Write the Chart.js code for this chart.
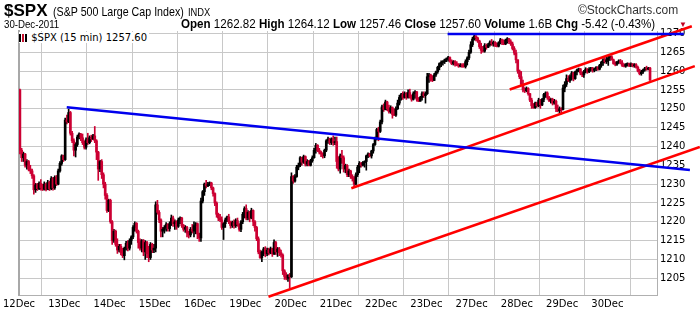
<!DOCTYPE html>
<html lang="en">
<head>
    <meta charset="UTF-8">
    <title>$SPX 15 min</title>
    <script src="https://cdn.jsdelivr.net/npm/chart.js"></script>
    <style>
        body { margin: 0; background: #fff; font-family: "Liberation Sans", Arial, sans-serif; }
        #wrap { position: relative; width: 700px; height: 312px; overflow: hidden; }
        #chart { position: absolute; left: 0; top: 0; }
        .t { position: absolute; white-space: nowrap; color: #000; transform-origin: 0 0; }
        #legend { position: absolute; left: 19px; top: 32px; font: 10px "DejaVu Sans", sans-serif; background: #fff; padding-right: 2px; }
        #legend i { display: inline-block; width: 2px; height: 8px; background: #000; margin-right: 1px; vertical-align: -1px; }
    </style>
</head>
<body>
<div id="wrap">
    <canvas id="chart" width="700" height="312"></canvas>
    <!-- header -->
    <div class="t" style="left:4px; top:1px; font-size:17px; font-weight:bold;">$SPX</div>
    <div class="t" style="left:53px; top:4px; font-size:13px; transform:scaleX(0.82);">(S&amp;P 500 Large Cap Index)</div>
    <div class="t" style="left:188px; top:6px; font-size:11px; transform:scaleX(0.85);">INDX</div>
    <div class="t" style="left:578px; top:3px; font-size:12px; color:#333;">&copy;StockCharts.com</div>
    <div class="t" style="left:4px; top:18px; font-size:11px; transform:scaleX(0.88);">30-Dec-2011</div>
    <div class="t" style="left:181px; top:17px; font-size:12px; transform:scaleX(0.965);">
        <b>Open</b> 1262.82 <b>High</b> 1264.12 <b>Low</b> 1257.46 <b>Close</b> 1257.60 <b>Volume</b> 1.6B <b>Chg</b> -5.42 (-0.43%)
    </div>
    <div class="t" style="left:679px; top:20px; font-size:8px; color:#c00020;">&#9660;</div>
    <div id="legend"><i></i><i style="background:#c8102e"></i><i></i> $SPX (15 min) 1257.60</div>
</div>
<script>
    // trading days on the x axis (26 bars of 15 min each)
    const dayLabels = ['12Dec', '13Dec', '14Dec', '15Dec', '16Dec', '19Dec', '20Dec',
                       '21Dec', '22Dec', '23Dec', '27Dec', '28Dec', '29Dec', '30Dec'];
    const barsPerDay = 26;
    const yTicks = [1205, 1210, 1215, 1220, 1225, 1230, 1235, 1240, 1245, 1250, 1255, 1260, 1265, 1270];

    // 15 min candles, one line per day
    const opens = [
        1255, 1239, 1237, 1238, 1235, 1236, 1234, 1233.5, 1232.2, 1228.5, 1229.8, 1228.8, 1230.2, 1229, 1228.6, 1230, 1228.6, 1230.5, 1228.8, 1231.5, 1229, 1231.8, 1230, 1233.5, 1235.5, 1237.5,
        1236.5, 1247, 1246.5, 1249, 1243.5, 1241.5, 1239, 1240.5, 1242.5, 1243.3, 1242.3, 1241, 1239.8, 1241.8, 1241, 1242.3, 1242, 1242.8, 1241.5, 1238.5, 1234, 1236, 1232.5, 1230, 1227, 1223,
        1225.7, 1220, 1215, 1217.5, 1214, 1212.5, 1213.5, 1211.8, 1211, 1213, 1214.3, 1213, 1215, 1216, 1218.5, 1219.6, 1217.5, 1214.5, 1213, 1215, 1212, 1214.5, 1211.5, 1210.5, 1214, 1212.5,
        1213, 1224.5, 1222.5, 1220.5, 1217.5, 1218, 1218.5, 1219.3, 1218.2, 1219.5, 1221, 1219.5, 1220, 1218.8, 1220.5, 1221, 1219, 1218, 1218.5, 1217, 1216.5, 1218, 1217.5, 1219, 1219.5, 1216.8,
        1215.7, 1225.5, 1228, 1230, 1229.5, 1230, 1230.3, 1229, 1227.5, 1225, 1222, 1221, 1220.5, 1218.5, 1219.5, 1220.5, 1221.3, 1220, 1219, 1219.8, 1219, 1220.3, 1219.3, 1218, 1220, 1222,
        1223.5, 1221, 1222.5, 1221, 1223, 1220, 1218.5, 1215.5, 1212, 1210.5, 1212, 1212.8, 1211.5, 1212.5, 1211.7, 1212.8, 1211.5, 1214.5, 1212, 1212.8, 1211.8, 1211.2, 1207, 1205.5, 1205, 1205.8,
        1205.4, 1232, 1230.8, 1232, 1234.5, 1235, 1237, 1235.8, 1237.3, 1235.3, 1236, 1235, 1236.2, 1237, 1239, 1240.3, 1239, 1238.5, 1238, 1237.5, 1239, 1241.5, 1242, 1241, 1242, 1241,
        1241.3, 1236, 1234, 1237.5, 1237, 1234, 1235, 1232.5, 1233.5, 1232, 1231.5, 1230, 1232.5, 1234.5, 1235.5, 1235, 1235.7, 1236, 1237.5, 1238, 1237.5, 1238.8, 1240.5, 1242.3, 1244.5, 1244,
        1246.5, 1250.5, 1249.8, 1251.8, 1250, 1249.2, 1250.3, 1248.5, 1248.3, 1250, 1251.5, 1253, 1253.8, 1253, 1254, 1253, 1254.3, 1253, 1252.5, 1254, 1254.5, 1252.5, 1252, 1253, 1254, 1253.5,
        1254, 1258.5, 1259, 1257.8, 1257.5, 1259, 1259.8, 1261, 1262, 1262.3, 1262.5, 1263, 1263.2, 1263.6, 1262.7, 1262, 1262.5, 1261.8, 1261.7, 1261.3, 1261.6, 1261.3, 1261.2, 1262.5, 1263.5, 1265,
        1267, 1268.5, 1269.3, 1268.8, 1268, 1266.5, 1265.5, 1265.3, 1266.8, 1266.3, 1267, 1267.7, 1267.2, 1267.6, 1266.8, 1266.6, 1267.5, 1268.3, 1267.5, 1267.2, 1268.2, 1268.6, 1267.8, 1267.2, 1266, 1264.8,
        1263, 1260, 1258.5, 1256.5, 1255, 1254.8, 1255.4, 1254, 1252.3, 1250.8, 1250.3, 1251.5, 1250.8, 1252.3, 1251, 1252.5, 1253.8, 1254.2, 1253, 1252.2, 1252.5, 1251.5, 1252, 1250, 1249.5, 1250,
        1249.8, 1255.5, 1256.5, 1258, 1257.5, 1258.5, 1259.5, 1258, 1259.8, 1260.3, 1260.6, 1259.5, 1259, 1259.8, 1260.5, 1259.8, 1260.5, 1260.8, 1260.2, 1260.6, 1261, 1260.5, 1261.5, 1262.3, 1263, 1262.5,
        1262.8, 1263.5, 1263.8, 1263, 1262, 1261.8, 1262.4, 1262.7, 1262.2, 1261.5, 1261.3, 1261.8, 1262, 1261.5, 1261.9, 1261.4, 1261.7, 1261, 1260, 1259.3, 1259.8, 1260.3, 1260.8, 1260.5, 1260.8
    ];
    const highs = [
        1255.2, 1239.5, 1238.5, 1238.2, 1236.5, 1236.3, 1235, 1234, 1232.5, 1230.2, 1230.2, 1230.6, 1231.2, 1230, 1230.6, 1230.3, 1231, 1230.8, 1232, 1231.8, 1232.2, 1232.3, 1234, 1236, 1237.8, 1237.7,
        1247.5, 1248.3, 1249.9, 1249.3, 1244, 1242, 1241, 1243, 1243.6, 1243.5, 1243.3, 1241.5, 1242.3, 1243.5, 1242.8, 1243, 1243.2, 1245.3, 1241.8, 1238.7, 1236.3, 1236.5, 1233, 1230.5, 1227.5, 1226,
        1226, 1220.3, 1218, 1217.8, 1215.5, 1214, 1214, 1213, 1213.3, 1214.8, 1215, 1215.5, 1216.3, 1219, 1220, 1219.8, 1217.8, 1215.5, 1215.3, 1215.3, 1215, 1214.8, 1213.5, 1214.5, 1214.3, 1214,
        1225.3, 1225.7, 1223, 1220.8, 1218.5, 1219, 1219.8, 1219.5, 1220, 1221.8, 1221.5, 1220.5, 1220.3, 1221, 1221.3, 1221.2, 1219.3, 1219, 1218.8, 1217.5, 1218.5, 1219.3, 1220, 1219.8, 1219.7, 1217,
        1226.3, 1228.3, 1230.3, 1231, 1230.5, 1230.6, 1230.5, 1229.2, 1227.7, 1225.3, 1222.3, 1222, 1221.3, 1219.8, 1221, 1221.5, 1222, 1220.2, 1220.2, 1220.5, 1220.8, 1221, 1219.5, 1220.3, 1222.5, 1224,
        1224.5, 1223, 1222.8, 1223.6, 1223.2, 1220.3, 1218.8, 1216, 1212.5, 1212.3, 1213.2, 1213.4, 1213, 1213, 1213.3, 1213, 1215.2, 1214.8, 1213.2, 1213.2, 1212.5, 1211.5, 1207.3, 1206.5, 1206, 1206.3,
        1233, 1232.3, 1232.5, 1235, 1235.6, 1237.3, 1237.2, 1237.7, 1237.5, 1236.5, 1236.3, 1236.6, 1237.5, 1239.5, 1240.8, 1240.5, 1239.5, 1238.8, 1238.3, 1239.3, 1241.8, 1242.5, 1242.2, 1242.3, 1242.8, 1242.5,
        1242.5, 1237.3, 1238, 1239, 1237.5, 1235.3, 1235.2, 1234, 1233.7, 1232.5, 1232, 1233, 1235, 1236, 1235.8, 1236, 1236.2, 1237.7, 1238.3, 1238.2, 1239, 1240.8, 1242.5, 1244.8, 1245.1, 1247,
        1251, 1251.3, 1252.3, 1252, 1251, 1250.8, 1250.5, 1250, 1250.5, 1252.3, 1253.6, 1254.1, 1254.5, 1254.5, 1254.3, 1255, 1255.2, 1253.7, 1254.5, 1254.8, 1254.6, 1253, 1253.3, 1254.5, 1254.5, 1254.5,
        1259.4, 1259.4, 1259.2, 1258.8, 1259.4, 1260, 1261.3, 1262.2, 1262.7, 1262.8, 1263.2, 1263.5, 1263.9, 1263.8, 1263, 1262.8, 1262.8, 1262.5, 1262, 1262, 1262, 1262, 1263, 1263.8, 1265.6, 1267.8,
        1269, 1269.6, 1269.4, 1269, 1268.2, 1267.4, 1266.6, 1267.3, 1267.2, 1267.4, 1268, 1268.4, 1268, 1267.8, 1267.5, 1267.8, 1268.7, 1268.5, 1268.3, 1268.5, 1268.9, 1268.7, 1268.3, 1267.7, 1266.5, 1265.6,
        1263, 1260.3, 1259.9, 1257.6, 1255.6, 1255.8, 1255.6, 1254.1, 1252.8, 1251.4, 1251.8, 1251.8, 1252.8, 1252.5, 1252.8, 1254.1, 1254.5, 1254.5, 1253.3, 1252.8, 1252.8, 1252.5, 1252.3, 1251, 1250.5, 1250.3,
        1256.3, 1257.2, 1259, 1258.8, 1259, 1259.9, 1259.7, 1260, 1260.5, 1260.8, 1260.7, 1259.8, 1260.2, 1260.9, 1260.7, 1260.9, 1261, 1261, 1260.8, 1261.2, 1261.2, 1261.8, 1262.6, 1263.3, 1263.5, 1263.8,
        1264.1, 1264, 1264.1, 1263.2, 1262.5, 1262.6, 1263, 1263.1, 1262.8, 1262, 1262, 1262.2, 1262.1, 1262.2, 1262, 1262, 1262, 1261.3, 1260.5, 1260.2, 1260.5, 1261, 1261.3, 1261, 1261
    ];
    const lows = [
        1238, 1236, 1236, 1234.5, 1234, 1233.5, 1232.8, 1231.5, 1227.3, 1227.8, 1228.3, 1228.5, 1228.4, 1228.3, 1228.4, 1228.2, 1228.5, 1228.3, 1228.5, 1228.4, 1228.6, 1229.6, 1229.8, 1233.2, 1235, 1236,
        1236.3, 1246, 1246.3, 1243, 1241, 1237.5, 1237.2, 1240, 1242, 1241.5, 1240.5, 1239.3, 1239.3, 1240.5, 1240.7, 1241.3, 1241.8, 1241, 1236.5, 1231, 1233.3, 1231.5, 1229, 1226, 1222.5, 1222.7,
        1219.6, 1214, 1214.5, 1213.5, 1211.6, 1212, 1211.2, 1210.5, 1209.9, 1212.5, 1212.3, 1212.5, 1214, 1215.5, 1217.5, 1217, 1213, 1212.5, 1212, 1211, 1210, 1210.5, 1209.4, 1210, 1211.8, 1211.8,
        1212, 1222, 1219.8, 1216, 1216, 1217, 1217.5, 1217.5, 1217.5, 1219, 1218.8, 1218, 1218, 1218.5, 1219.5, 1218.5, 1217.5, 1217.2, 1216, 1215.7, 1216, 1217, 1216, 1216.8, 1215.5, 1214.8,
        1214.8, 1225, 1227, 1229, 1229.3, 1229.6, 1228.5, 1226.8, 1224.3, 1221.2, 1220.3, 1220, 1218, 1215.3, 1218.5, 1220, 1219.5, 1218.3, 1218.5, 1218.3, 1218.5, 1218.8, 1217.5, 1217.4, 1219.5, 1221,
        1220.5, 1220.5, 1220, 1220.8, 1219, 1217.5, 1215, 1211.5, 1210.3, 1209.4, 1211, 1210.7, 1211, 1211.2, 1211.5, 1210.8, 1211.3, 1211.3, 1210.8, 1211, 1210.6, 1206, 1204.7, 1204.6, 1204.2, 1202.4,
        1205.2, 1230.2, 1230.5, 1231.8, 1233.8, 1234.6, 1235, 1235.5, 1234.8, 1234.8, 1234.8, 1234.8, 1235.8, 1236.9, 1238.2, 1238.6, 1238, 1237.3, 1236.9, 1237, 1238.6, 1240.8, 1240.5, 1240.5, 1240.3, 1240.5,
        1234.2, 1233.5, 1232.9, 1235.5, 1233.2, 1233, 1232, 1232, 1231.5, 1230.8, 1229.4, 1229.8, 1232, 1233, 1234.5, 1234.8, 1234.5, 1233.7, 1237, 1237.2, 1236.9, 1238.2, 1240.3, 1241.7, 1241.5, 1243.7,
        1246, 1249.3, 1249.7, 1249.5, 1248.8, 1248.8, 1247.5, 1248.2, 1248, 1249.8, 1251, 1252.3, 1252.5, 1252.8, 1252.5, 1252.8, 1252.8, 1252, 1252.3, 1252.8, 1252, 1251.9, 1252, 1252.3, 1253, 1251.5,
        1253.8, 1257, 1257.3, 1257.2, 1257.5, 1258.6, 1259.4, 1260.3, 1261.2, 1261.6, 1262, 1262.5, 1262.6, 1262.4, 1261.7, 1261.6, 1261.3, 1261.4, 1261, 1261.1, 1261, 1261, 1260.8, 1261.6, 1263, 1264.7,
        1266.5, 1268.2, 1268, 1267.6, 1266, 1264.7, 1265, 1265, 1265.8, 1266.2, 1266.6, 1266.8, 1266.6, 1266.5, 1266.4, 1266.4, 1267.2, 1267, 1267, 1267, 1267.4, 1267.3, 1266.8, 1265.6, 1264.3, 1262.2,
        1259.4, 1258, 1256.3, 1254.5, 1254.3, 1254.5, 1253.6, 1251.9, 1250.1, 1250.1, 1250.1, 1250.4, 1250.5, 1250.1, 1250.8, 1251.9, 1253, 1252.5, 1251.9, 1251.5, 1251, 1251.2, 1249.2, 1249.2, 1248.8, 1248.6,
        1249.7, 1254.5, 1255.9, 1257.2, 1257, 1257.6, 1257.4, 1257.8, 1259, 1259.8, 1259, 1258.5, 1258.3, 1259.5, 1259.4, 1259.6, 1260, 1259.7, 1259.8, 1260.1, 1260.2, 1260.3, 1261, 1261.5, 1262.1, 1262,
        1261.5, 1262.8, 1262.9, 1261.8, 1261.4, 1261.5, 1262, 1261.9, 1261.2, 1261.1, 1261, 1261.3, 1261.2, 1261.2, 1261.1, 1261, 1260.8, 1259.8, 1259, 1258.9, 1259.4, 1260, 1260.2, 1260.3, 1257.5
    ];
    const closes = [
        1239, 1237, 1238, 1235, 1236, 1234, 1233.5, 1232.2, 1228.5, 1229.8, 1228.8, 1230.2, 1229, 1228.6, 1230, 1228.6, 1230.5, 1228.8, 1231.5, 1229, 1231.8, 1230, 1233.5, 1235.5, 1237.5, 1236.5,
        1247, 1246.5, 1249, 1243.5, 1241.5, 1239, 1240.5, 1242.5, 1243.3, 1242.3, 1241, 1239.8, 1241.8, 1241, 1242.3, 1242, 1242.8, 1241.5, 1238.5, 1234, 1236, 1232.5, 1230, 1227, 1223, 1225.7,
        1220, 1215, 1217.5, 1214, 1212.5, 1213.5, 1211.8, 1211, 1213, 1214.3, 1213, 1215, 1216, 1218.5, 1219.6, 1217.5, 1214.5, 1213, 1215, 1212, 1214.5, 1211.5, 1210.5, 1214, 1212.5, 1213,
        1224.5, 1222.5, 1220.5, 1217.5, 1218, 1218.5, 1219.3, 1218.2, 1219.5, 1221, 1219.5, 1220, 1218.8, 1220.5, 1221, 1219, 1218, 1218.5, 1217, 1216.5, 1218, 1217.5, 1219, 1219.5, 1216.8, 1215.7,
        1225.5, 1228, 1230, 1229.5, 1230, 1230.3, 1229, 1227.5, 1225, 1222, 1221, 1220.5, 1218.5, 1219.5, 1220.5, 1221.3, 1220, 1219, 1219.8, 1219, 1220.3, 1219.3, 1218, 1220, 1222, 1223.5,
        1221, 1222.5, 1221, 1223, 1220, 1218.5, 1215.5, 1212, 1210.5, 1212, 1212.8, 1211.5, 1212.5, 1211.7, 1212.8, 1211.5, 1214.5, 1212, 1212.8, 1211.8, 1211.2, 1207, 1205.5, 1205, 1205.8, 1205.4,
        1232, 1230.8, 1232, 1234.5, 1235, 1237, 1235.8, 1237.3, 1235.3, 1236, 1235, 1236.2, 1237, 1239, 1240.3, 1239, 1238.5, 1238, 1237.5, 1239, 1241.5, 1242, 1241, 1242, 1241, 1241.3,
        1236, 1234, 1237.5, 1237, 1234, 1235, 1232.5, 1233.5, 1232, 1231.5, 1230, 1232.5, 1234.5, 1235.5, 1235, 1235.7, 1236, 1237.5, 1238, 1237.5, 1238.8, 1240.5, 1242.3, 1244.5, 1244, 1246.5,
        1250.5, 1249.8, 1251.8, 1250, 1249.2, 1250.3, 1248.5, 1248.3, 1250, 1251.5, 1253, 1253.8, 1253, 1254, 1253, 1254.3, 1253, 1252.5, 1254, 1254.5, 1252.5, 1252, 1253, 1254, 1253.5, 1254,
        1258.5, 1259, 1257.8, 1257.5, 1259, 1259.8, 1261, 1262, 1262.3, 1262.5, 1263, 1263.2, 1263.6, 1262.7, 1262, 1262.5, 1261.8, 1261.7, 1261.3, 1261.6, 1261.3, 1261.2, 1262.5, 1263.5, 1265, 1267,
        1268.5, 1269.3, 1268.8, 1268, 1266.5, 1265.5, 1265.3, 1266.8, 1266.3, 1267, 1267.7, 1267.2, 1267.6, 1266.8, 1266.6, 1267.5, 1268.3, 1267.5, 1267.2, 1268.2, 1268.6, 1267.8, 1267.2, 1266, 1264.8, 1263,
        1260, 1258.5, 1256.5, 1255, 1254.8, 1255.4, 1254, 1252.3, 1250.8, 1250.3, 1251.5, 1250.8, 1252.3, 1251, 1252.5, 1253.8, 1254.2, 1253, 1252.2, 1252.5, 1251.5, 1252, 1250, 1249.5, 1250, 1249.6,
        1255.5, 1256.5, 1258, 1257.5, 1258.5, 1259.5, 1258, 1259.8, 1260.3, 1260.6, 1259.5, 1259, 1259.8, 1260.5, 1259.8, 1260.5, 1260.8, 1260.2, 1260.6, 1261, 1260.5, 1261.5, 1262.3, 1263, 1262.5, 1263,
        1263.5, 1263.8, 1263, 1262, 1261.8, 1262.4, 1262.7, 1262.2, 1261.5, 1261.3, 1261.8, 1262, 1261.5, 1261.9, 1261.4, 1261.7, 1261, 1260, 1259.3, 1259.8, 1260.3, 1260.8, 1260.5, 1260.8, 1257.6
    ];

    // drawn trend lines: [bar index, price] at both ends
    const blueFall = [[26.9, 1250.4], [384.9, 1233.75]];
    const blueTop = [[245.7, 1269.85], [381.4, 1269.85]];
    const redChannelLow = [[190.4, 1228.9], [387.7, 1261.3]];
    const redChannelHigh = [[281.4, 1255.1], [386.0, 1271.9]];
    const redLong = [[142.8, 1200.1], [390.6, 1239.85]];

    const RED = '#cc0033';
    const GRID = '#c8c8c8';

    function candleColor(c) {
        const i = c.dataIndex;
        return closes[i] < opens[i] ? RED : '#000';
    }

    function trend(points, color) {
        return {
            type: 'line',
            data: points.map(p => ({ x: p[0], y: p[1] })),
            borderColor: color,
            borderWidth: 2.5,
            pointRadius: 0,
            clip: false
        };
    }

    const wicks = closes.map((c, i) => ({ x: i, y: [lows[i], highs[i]] }));
    const bodies = closes.map((c, i) => ({ x: i, y: [opens[i], c] }));

    const chart = new Chart(document.getElementById('chart').getContext('2d'), {
        type: 'bar',
        data: {
            datasets: [
                trend(blueTop, '#0000ee'),
                trend(blueFall, '#0000ee'),
                trend(redChannelLow, '#ff0000'),
                trend(redChannelHigh, '#ff0000'),
                trend(redLong, '#ff0000'),
                { data: bodies, backgroundColor: candleColor, barThickness: 2, minBarLength: 1, grouped: false },
                { data: wicks, backgroundColor: candleColor, barThickness: 1, grouped: false }
            ]
        },
        options: {
            responsive: false,
            animation: false,
            layout: { padding: { left: 17, top: 31, right: 0, bottom: 0 } },
            plugins: { legend: { display: false }, tooltip: { enabled: false } },
            scales: {
                x: {
                    type: 'linear',
                    min: -0.57,
                    max: 366,
                    offset: false,
                    afterBuildTicks: s => { s.ticks = dayLabels.map((d, k) => ({ value: k * barsPerDay - 0.5 })); },
                    afterFit: s => { s.height = 17; },
                    grid: { color: GRID, lineWidth: 1, drawTicks: false },
                    border: { color: '#b0b0b0' },
                    ticks: {
                        autoSkip: false,
                        maxRotation: 0,
                        padding: 3,
                        color: '#000',
                        font: { family: 'DejaVu Sans', size: 10 },
                        callback: (v, k) => dayLabels[k]
                    }
                },
                y: {
                    position: 'right',
                    min: 1200.57,
                    max: 1270.64,
                    afterBuildTicks: s => { s.ticks = yTicks.map(v => ({ value: v })); },
                    afterFit: s => { s.width = 43; },
                    grid: { color: GRID, lineWidth: 1, drawTicks: false },
                    border: { color: '#b0b0b0' },
                    ticks: {
                        padding: 3,
                        color: '#000',
                        font: { family: 'DejaVu Sans', size: 10 },
                        callback: v => String(v)
                    }
                },
                edge: {
                    position: 'left',
                    grid: { display: false, drawTicks: false },
                    ticks: { display: false },
                    border: { color: '#a8a8a8', width: 2 },
                    afterFit: s => { s.width = 0; }
                }
            }
        }
    });
</script>
</body>
</html>
